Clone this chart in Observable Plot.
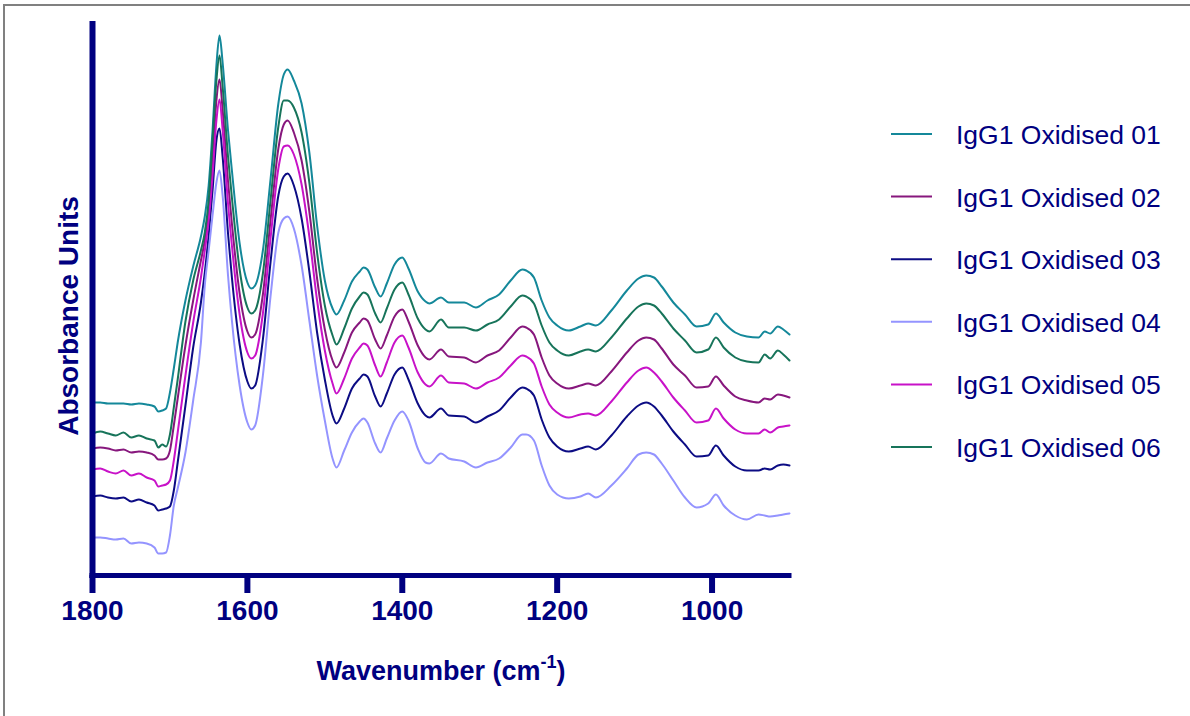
<!DOCTYPE html>
<html><head><meta charset="utf-8">
<script src="https://cdn.jsdelivr.net/npm/d3@7"></script>
<script src="https://cdn.jsdelivr.net/npm/@observablehq/plot@0.6"></script>
<style>
body{margin:0;background:#fff;}
#wrap{position:relative;width:1190px;height:716px;overflow:hidden;font-family:"Liberation Sans",Arial,sans-serif;}
#frame{position:absolute;left:3px;top:4px;right:-10px;bottom:-10px;border-top:2px solid #808080;border-left:2px solid #808080;pointer-events:none;}
#wrap svg{position:absolute;left:0;top:0;}
</style></head><body><div id="wrap"><div id="frame"></div></div>
<script>
// Wavenumber grid (cm-1)
const wavenumber = [1800,1790,1780,1770,1760,1750,1740,1730,1720,1715,1710,1705,
  1700,1695,1690,1680,1670,1660,1655,1650,1645,1640,1636,
  1632,1625,1620,1610,1600,1595,1590,1580,1570,1560,1553,1548,1540,1530,1520,1510,1500,1490,1485,
  1475,1465,1455,1450,1445,1435,1428,1420,1410,1400,1392,1380,1370,1365,1350,1340,1320,1305,1290,1275,
  1260,1245,1240,1230,1220,1210,1200,1185,1170,1160,1150,1130,1110,1095,1085,1075,1065,1050,1035,1020,
  1005,995,985,970,955,940,932,925,915,908,900];

// Absorbance (arbitrary units, x1e-3, offset spectra)
const ox01 = [173,173,172,172,172,171,172,171,169,164,165,167,
  183,207,233,275,309,339,359,390,445,510,540,
  513,445,405,332,293,287,290,325,397,472,501,506,495,472,423,350,295,267,261,
  275,294,304,308,306,288,279,292,311,318,307,284,274,272,278,273,273,268,275,281,
  295,306,305,298,275,258,250,245,249,252,250,265,285,297,300,298,289,273,261,249,
  251,262,253,243,239,238,244,242,249,246,241];
const ox02 = [127,128,127,125,126,123,124,123,120,116,116,117,
  125,150,177,230,275,315,335,365,415,475,496,
  466,394,352,282,244,238,241,281,356,427,451,455,443,415,364,297,246,215,208,
  223,243,253,257,255,236,227,240,259,266,254,230,218,216,226,219,218,213,220,225,
  238,249,248,241,218,200,192,187,190,192,190,204,223,235,238,236,227,211,200,188,
  189,199,190,179,175,173,177,176,181,180,178];
const ox03 = [79,80,78,77,78,74,76,73,70,65,66,67,
  69,85,113,170,228,273,303,340,385,435,447,
  419,342,298,231,194,187,190,236,314,380,399,402,390,357,304,243,196,160,152,
  167,187,197,201,199,179,169,182,201,208,196,172,160,158,167,160,159,153,159,165,
  178,188,187,180,156,138,129,124,127,129,126,140,159,170,173,169,160,144,131,119,
  120,130,120,109,105,105,107,106,110,111,110];
const ox04 = [38,38,37,36,37,32,33,32,28,22,22,23,
  40,70,87,123,175,233,290,325,360,393,405,
  380,300,255,190,153,146,150,200,280,343,357,359,347,310,255,200,155,117,108,
  125,143,154,157,153,132,123,137,155,164,155,127,113,112,122,117,114,108,113,117,
  128,141,141,135,110,90,81,77,79,82,78,90,107,121,123,121,112,95,78,68,
  72,81,70,60,56,61,60,59,60,61,62];
const ox05 = [106,107,104,102,105,100,102,98,95,89,90,91,
  95,115,143,200,253,298,325,355,400,455,476,
  446,372,330,261,223,217,220,262,338,407,429,430,421,391,339,275,225,192,182,
  197,217,228,232,230,210,199,213,233,240,228,203,191,189,200,193,192,187,193,198,
  210,220,219,212,189,171,163,158,161,162,160,174,193,205,208,203,194,178,165,153,
  155,167,157,146,142,142,146,143,148,149,150];
const ox06 = [142,144,142,140,143,138,140,137,135,128,131,129,
  141,168,196,254,295,325,343,375,435,495,520,
  489,419,378,306,268,262,265,302,376,449,475,475,468,443,393,323,270,240,231,
  247,267,279,283,281,262,253,267,286,293,281,257,246,244,256,248,248,245,251,256,
  269,280,279,272,250,233,225,220,224,226,224,238,257,269,272,270,262,247,235,223,
  226,238,228,218,214,213,221,217,225,221,215];

const seriesNames = ["IgG1 Oxidised 01","IgG1 Oxidised 02","IgG1 Oxidised 03","IgG1 Oxidised 04","IgG1 Oxidised 05","IgG1 Oxidised 06"];
const seriesValues = [ox01, ox02, ox03, ox04, ox05, ox06];
const seriesColors = ["#14889a","#87177d","#0c0c84","#9494ff","#c812c8","#17745a"];
const xTicks = [1800,1600,1400,1200,1000];

const rows = [];
seriesNames.forEach((s, i) => {
  seriesValues[i].forEach((v, j) => rows.push({series: s, w: wavenumber[j], a: v}));
});

const navy = "#000080";
const font = "'Liberation Sans', Arial, sans-serif";

const plot = Plot.plot({
  width: 1190, height: 716,
  marginLeft: 92, marginRight: 401, marginTop: 24, marginBottom: 141,
  style: {fontFamily: font, color: navy, background: "transparent", overflow: "visible"},
  x: {domain: [1800, 900], axis: null},
  y: {domain: [0, 551], axis: null},
  color: {domain: seriesNames, range: seriesColors},
  marks: [
    Plot.line(rows, {x: "w", y: "a", z: "series", stroke: "series", strokeWidth: 2, curve: "monotone-x"}),
    Plot.ruleY([0], {stroke: navy, strokeWidth: 5, strokeLinecap: "square"}),
    Plot.ruleX([1800], {stroke: navy, strokeWidth: 6, strokeLinecap: "square"}),
    Plot.axisX({ticks: xTicks, tickSize: 18, tickPadding: 7, strokeWidth: 6, stroke: navy, fill: navy,
      fontSize: 28, fontWeight: "bold", tickFormat: d => String(d), label: null})
  ]
});

document.getElementById("wrap").appendChild(plot);
const svg = d3.select(plot);

// X title with superscript
const xt = svg.append("text")
  .attr("x", 441).attr("y", 680)
  .attr("text-anchor", "middle")
  .attr("font-family", font).attr("font-weight", "bold").attr("font-size", 27)
  .attr("fill", navy);
xt.append("tspan").text("Wavenumber (cm");
xt.append("tspan").attr("dy", -12).attr("font-size", 18).text("-1");
xt.append("tspan").attr("dy", 12).text(")");

// Y title
svg.append("text")
  .attr("transform", "translate(78,316) rotate(-90)")
  .attr("text-anchor", "middle")
  .attr("font-family", font).attr("font-weight", "bold").attr("font-size", 28)
  .attr("fill", navy)
  .text("Absorbance Units");

// Legend
const lg = svg.append("g").attr("text-anchor", "start");
seriesNames.forEach((s, i) => {
  const y = 134 + i * 62.6;
  lg.append("line").attr("x1", 891).attr("x2", 932).attr("y1", y).attr("y2", y)
    .attr("stroke", seriesColors[i]).attr("stroke-width", 2);
  lg.append("text").attr("x", 956).attr("y", y + 10)
    .attr("text-anchor", "start")
    .attr("font-family", font).attr("font-size", 26.5).attr("fill", navy)
    .text(s);
});
</script></body></html>
